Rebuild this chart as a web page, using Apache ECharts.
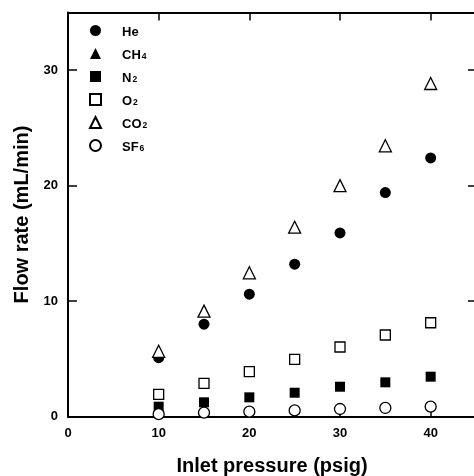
<!DOCTYPE html>
<html>
<head>
<meta charset="utf-8">
<script src="https://cdn.jsdelivr.net/npm/echarts@6/dist/echarts.min.js"></script>
<style>
html,body{margin:0;padding:0;background:#fff;}
#chart{width:474px;height:476px;}
</style>
</head>
<body>
<div id="chart"></div>
<script>
const pressure = [10, 15, 20, 25, 30, 35, 40];
const he  = [5.1, 8.0, 10.6, 13.2, 15.9, 19.4, 22.4];
const ch4 = [];
const n2  = [0.85, 1.23, 1.66, 2.06, 2.58, 2.96, 3.45];
const o2  = [1.92, 2.87, 3.88, 4.95, 6.02, 7.06, 8.12];
const co2 = [5.65, 9.13, 12.45, 16.4, 20.0, 23.45, 28.85];
const sf6 = [0.2, 0.33, 0.42, 0.53, 0.65, 0.74, 0.85];
const xTicks = [0, 10, 20, 30, 40];
const yTicks = [0, 10, 20, 30];
const xTitle = 'Inlet pressure (psig)';
const yTitle = 'Flow rate (mL/min)';
const legendLabels = {He: ['He', ''], CH4: ['CH', '4'], N2: ['N', '2'], O2: ['O', '2'], CO2: ['CO', '2'], SF6: ['SF', '6']};

const FONT = '"Liberation Sans", Arial, sans-serif';
const pair = (vals) => pressure.map((p, i) => [p, vals[i]]).filter(d => d[1] !== undefined);

function mk(name, vals, symbol, size, filled) {
  return {
    name: name, type: 'scatter', data: pair(vals), symbol: symbol, symbolSize: size,
    itemStyle: filled ? {color: '#000', borderColor: '#000', borderWidth: 0, opacity: 1}
                      : {color: '#fff', borderColor: '#000', borderWidth: 1.3, opacity: 1},
    emphasis: {disabled: true}
  };
}

const chart = echarts.init(document.getElementById('chart'), null, {renderer: 'canvas'});
const axisLineStyle = {color: '#000', width: 2};
chart.setOption({
  animation: false,
  backgroundColor: '#fff',
  grid: {left: 68, right: -2, top: 12.5, bottom: 59.5, containLabel: false, outerBoundsMode: 'none'},
  legend: {
    orient: 'vertical', left: 84, top: 20, itemWidth: 11, itemHeight: 11, itemGap: 8,
    selectedMode: false,
    data: ['He', 'CH4', 'N2', 'O2', 'CO2', 'SF6'],
    formatter: function (n) { const l = legendLabels[n]; return '{b|' + l[0] + '}' + (l[1] ? '{s|' + l[1] + '}' : ''); },
    textStyle: {
      padding: [0, 0, 0, 16],
      rich: {
        b: {fontFamily: FONT, fontWeight: 'bold', fontSize: 13, color: '#000', lineHeight: 16, verticalAlign: 'bottom'},
        s: {fontFamily: FONT, fontWeight: 'bold', fontSize: 8.5, color: '#000', lineHeight: 16, verticalAlign: 'bottom', padding: [6, 0, 0, 1]}
      }
    }
  },
  xAxis: [{
    type: 'value', min: 0, max: 45, interval: 10, position: 'bottom',
    name: xTitle, nameLocation: 'middle', nameGap: 40,
    nameTextStyle: {fontFamily: FONT, fontWeight: 'bold', fontSize: 20, color: '#000'},
    axisLine: {show: true, onZero: false, lineStyle: axisLineStyle},
    axisTick: {show: true, inside: true, length: 8, lineStyle: {color: '#000', width: 1.5}, customValues: xTicks},
    axisLabel: {show: true, margin: 10, fontFamily: FONT, fontWeight: 'bold', fontSize: 13, color: '#000', customValues: xTicks},
    splitLine: {show: false}
  }, {
    type: 'value', min: 0, max: 45, interval: 10, position: 'top',
    axisLine: {show: true, onZero: false, lineStyle: axisLineStyle},
    axisTick: {show: true, inside: true, length: 8, lineStyle: {color: '#000', width: 1.5}, customValues: xTicks.slice(1)},
    axisLabel: {show: false}, splitLine: {show: false}
  }],
  yAxis: [{
    type: 'value', min: 0, max: 35, interval: 10, position: 'left',
    name: yTitle, nameLocation: 'middle', nameGap: 34, nameRotate: 90,
    nameTextStyle: {fontFamily: FONT, fontWeight: 'bold', fontSize: 20, color: '#000'},
    axisLine: {show: true, onZero: false, lineStyle: axisLineStyle},
    axisTick: {show: true, inside: true, length: 9, lineStyle: {color: '#000', width: 1.5}, customValues: yTicks},
    axisLabel: {show: true, margin: 10, fontFamily: FONT, fontWeight: 'bold', fontSize: 13, color: '#000', customValues: yTicks},
    splitLine: {show: false}
  }, {
    type: 'value', min: 0, max: 35, interval: 10, position: 'right',
    axisLine: {show: true, onZero: false, lineStyle: axisLineStyle},
    axisTick: {show: true, inside: true, length: 8, lineStyle: {color: '#000', width: 1.5}, customValues: yTicks.slice(1)},
    axisLabel: {show: false}, splitLine: {show: false}
  }],
  series: [
    mk('He', he, 'circle', 11, true),
    mk('CH4', ch4, 'triangle', 11, true),
    mk('N2', n2, 'rect', 10, true),
    mk('O2', o2, 'rect', 10, false),
    mk('CO2', co2, 'triangle', 12, false),
    mk('SF6', sf6, 'circle', 11, false)
  ]
});
</script>
</body>
</html>
